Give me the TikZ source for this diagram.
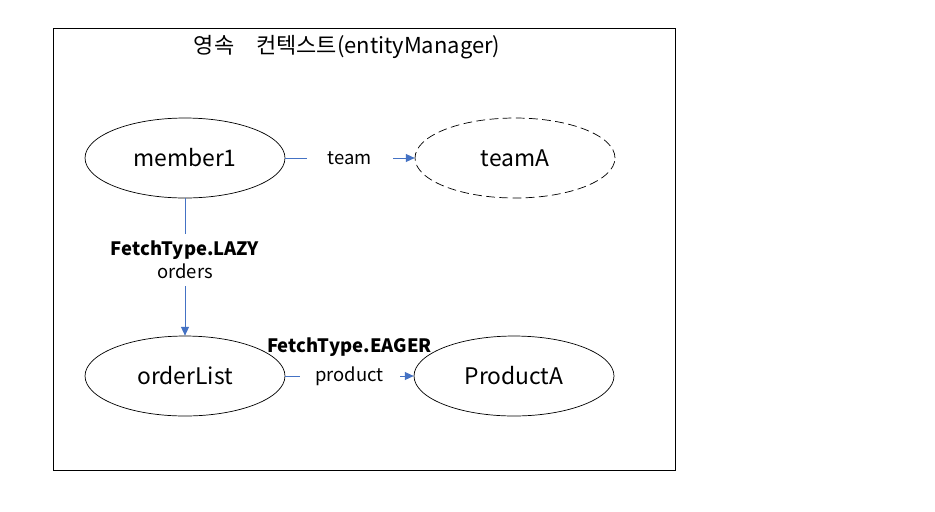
\documentclass[tikz,border=0pt]{standalone}
\usepackage{fontspec}
\setmainfont{Noto Sans CJK KR}
\usetikzlibrary{arrows.meta,positioning,shapes.geometric}
\definecolor{linkblue}{RGB}{68,114,196}
\tikzset{
  entity/.style={draw, ellipse, line width=0.4pt, minimum width=4cm, minimum height=1.6cm, inner sep=0pt, font=\fontsize{13}{15}\selectfont},
  link/.style={draw=linkblue, line width=0.5pt, -{Triangle[length=5pt,width=4.5pt]}},
  linklabel/.style={fill=white, inner xsep=5pt, font=\fontsize{10.5}{13}\selectfont},
  fetch/.style={font=\fontsize{10.5}{13}\selectfont\bfseries, inner sep=1pt}
}

\begin{document}
\begin{tikzpicture}[x=0.02cm, y=-0.02cm]
			%%%%% START %%%%%
			\useasboundingbox (0, 0) rectangle (935, 511);
			\fill[white] (0, 0) rectangle (935, 511);
			
			\draw[line width=0.5pt] (53, 28) rectangle (675, 470);
			\node[font=\fontsize{12.5}{15}\selectfont] (ctx) at (347, 47) {영속\quad 컨텍스트(entityManager)};
			
			\node[entity] (member) at (185, 158) {member1};
			\node[entity, dashed, dash pattern=on 5pt off 2.5pt] (team) at (515, 158) {teamA};
			\node[entity] (orders) at (185, 376) {orderList};
			\node[entity] (product) at (514, 376) {ProductA};
			
			\draw[link] (member) -- node[linklabel, inner xsep=12pt] (teamlbl) {team} (team);
			\draw[link] (member) -- node[linklabel, pos=0.45, align=center, inner ysep=4pt] (lazylbl) {\textbf{FetchType.LAZY}\\orders} (orders);
			\draw[link] (orders) -- node[linklabel, inner xsep=9pt] (prodlbl) {product} (product);
			
			\node[fetch, above=1pt of prodlbl] (eager) {FetchType.EAGER};
			
			%%%%% END %%%%%
\end{tikzpicture}
\end{document}
